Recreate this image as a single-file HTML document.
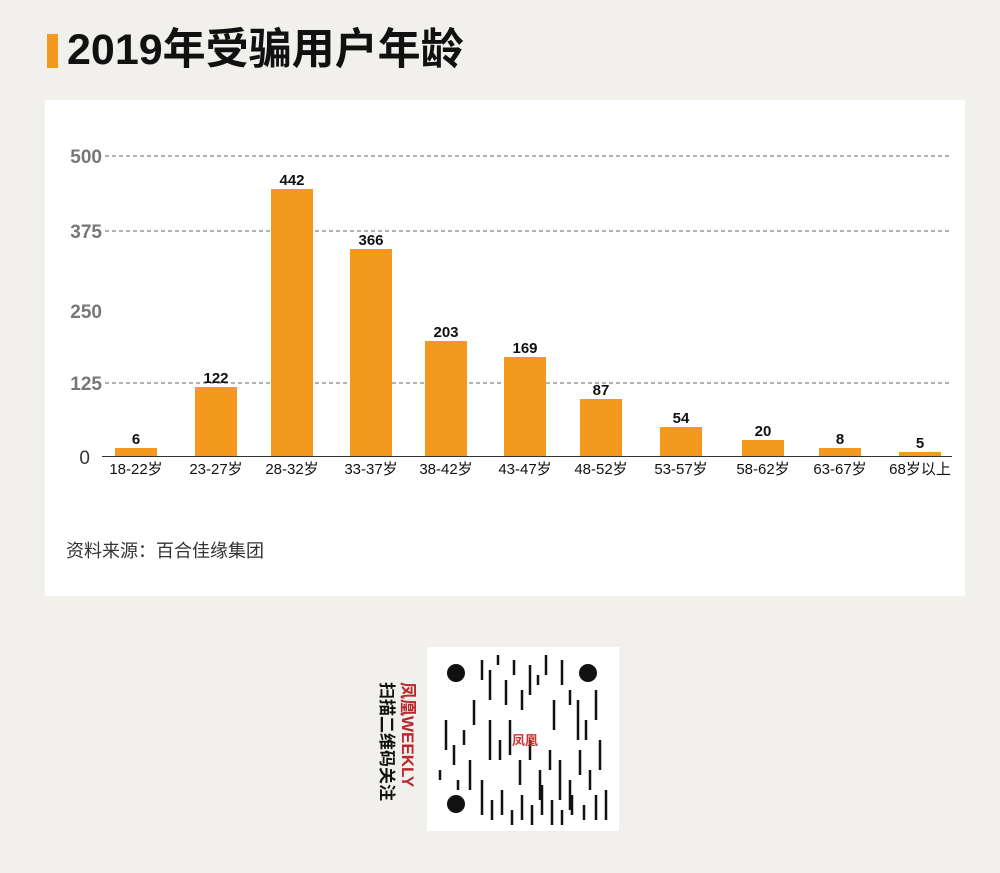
<!DOCTYPE html>
<html><head><meta charset="utf-8"><style>
body{margin:0;width:1000px;height:873px;background:#f1f0ec;position:relative;overflow:hidden;font-family:"Liberation Sans","Noto Sans CJK SC",sans-serif}
.a{position:absolute}
</style></head><body>
<div class="a" style="left:47px;top:34px;width:11px;height:34px;background:#f39a1e"></div>
<div class="a" style="left:67px;top:23px;font-size:43px;font-weight:bold;color:#111;line-height:54px;letter-spacing:0px">2019年受骗用户年龄</div>
<div class="a" style="left:45px;top:100px;width:920px;height:496px;background:#fff"></div>
<svg class="a" style="left:0;top:0" width="1000" height="873" font-family="Liberation Sans,Noto Sans CJK SC,sans-serif">
<g stroke="#666" stroke-dasharray="4,3" stroke-width="1">
<line x1="105" y1="156" x2="952" y2="156"/><line x1="105" y1="231" x2="952" y2="231"/><line x1="105" y1="383" x2="952" y2="383"/></g>
<line x1="102" y1="456.5" x2="952" y2="456.5" stroke="#333" stroke-width="1"/>
<g font-size="19" font-weight="bold" fill="#777" text-anchor="end">
<text x="102" y="163">500</text><text x="102" y="238">375</text><text x="102" y="318">250</text><text x="102" y="390">125</text><text x="90" y="464" font-weight="normal" fill="#333">0</text></g>
<g fill="#f39a1e">
<rect x="115" y="448" width="42" height="8"/><rect x="195" y="387" width="42" height="69"/><rect x="271" y="189" width="42" height="267"/><rect x="350" y="249" width="42" height="207"/><rect x="425" y="341" width="42" height="115"/><rect x="504" y="357" width="42" height="99"/><rect x="580" y="399" width="42" height="57"/><rect x="660" y="427" width="42" height="29"/><rect x="742" y="440" width="42" height="16"/><rect x="819" y="448" width="42" height="8"/><rect x="899" y="452" width="42" height="4"/></g>
<g font-size="15" font-weight="bold" fill="#111" text-anchor="middle">
<text x="136" y="444">6</text><text x="216" y="383">122</text><text x="292" y="185">442</text><text x="371" y="245">366</text><text x="446" y="337">203</text><text x="525" y="353">169</text><text x="601" y="395">87</text><text x="681" y="423">54</text><text x="763" y="436">20</text><text x="840" y="444">8</text><text x="920" y="448">5</text></g>
<g font-size="15" fill="#111" text-anchor="middle">
<text x="136" y="474">18-22岁</text><text x="216" y="474">23-27岁</text><text x="292" y="474">28-32岁</text><text x="371" y="474">33-37岁</text><text x="446" y="474">38-42岁</text><text x="525" y="474">43-47岁</text><text x="601" y="474">48-52岁</text><text x="681" y="474">53-57岁</text><text x="763" y="474">58-62岁</text><text x="840" y="474">63-67岁</text><text x="920" y="474">68岁以上</text></g>
<text x="66" y="557" font-size="18" fill="#333">资料来源：百合佳缘集团</text>
<rect x="427" y="647" width="192" height="184" fill="#fff"/>
<g fill="#111"><circle cx="456" cy="673" r="9"/><circle cx="588" cy="673" r="9"/><circle cx="456" cy="804" r="9"/></g>
<g stroke="#111" stroke-width="2.5">
<path d="M482 660v20M490 670v30M498 655v10M506 680v25M514 660v15M522 690v20M530 665v30M538 675v10M546 655v20M554 700v30M562 660v25M570 690v15M578 700v40M596 690v30M586 720v20M474 700v25M464 730v15M454 745v20M446 720v30M490 720v40M500 740v20M510 720v35M520 760v25M530 740v20M540 770v30M550 750v20M560 760v40M570 780v30M580 750v25M590 770v20M600 740v30M606 790v30M482 780v35M492 800v20M502 790v25M512 810v15M522 795v25M532 805v20M542 785v30M552 800v25M562 810v15M572 795v20M584 805v15M596 795v25M470 760v30M458 780v10M440 770v10"/></g>
<g font-size="13" fill="#c33" font-weight="bold"><text x="512" y="745">凤凰</text></g>
<text x="0" y="0" font-size="17" font-weight="bold" fill="#b8282d" transform="translate(402,682) rotate(90)">凤凰WEEKLY</text>
<text x="0" y="0" font-size="17" font-weight="bold" fill="#111" transform="translate(381,682) rotate(90)">扫描二维码关注</text>
</svg>
</body></html>
